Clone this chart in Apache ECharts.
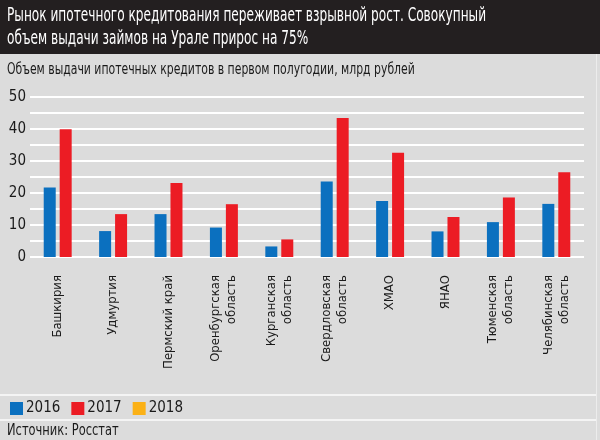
<!DOCTYPE html>
<html><head><meta charset="utf-8">
<script src="https://cdn.jsdelivr.net/npm/echarts@6/dist/echarts.min.js"></script>
<style>html,body{margin:0;padding:0;background:#dcdcdc;}#c{width:600px;height:440px;}</style>
</head><body><div id="c"></div>
<script>
const categories = ['Башкирия','Удмуртия','Пермский край','Оренбургская\nобласть','Курганская\nобласть','Свердловская\nобласть','ХМАО','ЯНАО','Тюменская\nобласть','Челябинская\nобласть'];
const v2016 = [21.7, 8.1, 13.4, 9.2, 3.3, 23.6, 17.5, 8.0, 10.9, 16.6];
const v2017 = [39.9, 13.4, 23.1, 16.5, 5.5, 43.4, 32.6, 12.5, 18.6, 26.5];
const v2018 = [];
const yTicks = [0, 10, 20, 30, 40, 50];
const titleLines = ['Рынок ипотечного кредитования переживает взрывной рост. Совокупный', 'объем выдачи займов на Урале прирос на 75%'];
const subtitle = 'Объем выдачи ипотечных кредитов в первом полугодии, млрд рублей';
const source = 'Источник: Росстат';
const F = "'DejaVu Sans Condensed','DejaVu Sans',sans-serif";
function txt(t, x, y, size, sx, color) {
  return {type:'text', x:x, y:y, scaleX:sx, z:10,
    style:{text:t, fontFamily:F, fontSize:size, fill:color, verticalAlign:'middle', align:'left'}};
}
const chart = echarts.init(document.getElementById('c'), null, {renderer:'canvas'});
chart.setOption({
  backgroundColor: '#dcdcdc',
  animation: false,
  graphic: [
    {type:'rect', shape:{x:0,y:0,width:600,height:54}, style:{fill:'#231f20'}, z:-1},
    {type:'rect', shape:{x:0,y:394,width:596,height:2}, style:{fill:'#f4f4f4'}},
    {type:'rect', shape:{x:0,y:419,width:596,height:2}, style:{fill:'#f4f4f4'}},
    {type:'rect', shape:{x:596,y:54,width:1,height:386}, style:{fill:'#ececec'}},
    txt(titleLines[0], 7, 16, 20, 0.675, '#ffffff'),
    txt(titleLines[1], 7, 39, 20, 0.675, '#ffffff'),
    txt(subtitle, 7, 70, 16, 0.755, '#1a1a1a'),
    txt(source, 7, 431, 15, 0.85, '#1a1a1a')
  ],
  legend: {
    left: 10, top: 401, padding: 0, itemWidth: 13, itemHeight: 13, itemGap: 11, icon: 'rect',
    textStyle: {color:'#1a1a1a', fontFamily:F, fontSize:15, padding:[0,0,0,-2]},
    data: ['2016','2017','2018']
  },
  grid: {left:30, right:16, top:97, bottom:183, containLabel:false},
  xAxis: {
    type:'category', data: categories,
    axisLine:{show:false}, axisTick:{show:false},
    axisLabel:{rotate:90, interval:0, margin:18, color:'#1a1a1a', fontFamily:F, fontSize:13, lineHeight:16, align:'right'}
  },
  yAxis: {
    type:'value', min:0, max:50, interval:5,
    axisLine:{show:false}, axisTick:{show:false},
    splitLine:{lineStyle:{color:'#ffffff', width:2}},
    axisLabel:{margin:4, color:'#1a1a1a', fontFamily:F, fontSize:15,
      formatter: v => yTicks.indexOf(v) >= 0 ? String(v) : ''}
  },
  series: [
    {name:'2016', type:'bar', data:v2016, barWidth:12, barGap:'33%', itemStyle:{color:'#0b70bf'}},
    {name:'2017', type:'bar', data:v2017, barWidth:12, barGap:'33%', itemStyle:{color:'#ec1c24'}},
    {name:'2018', type:'line', data:v2018, itemStyle:{color:'#fbb116'}, lineStyle:{color:'#fbb116'}}
  ]
});
</script></body></html>
